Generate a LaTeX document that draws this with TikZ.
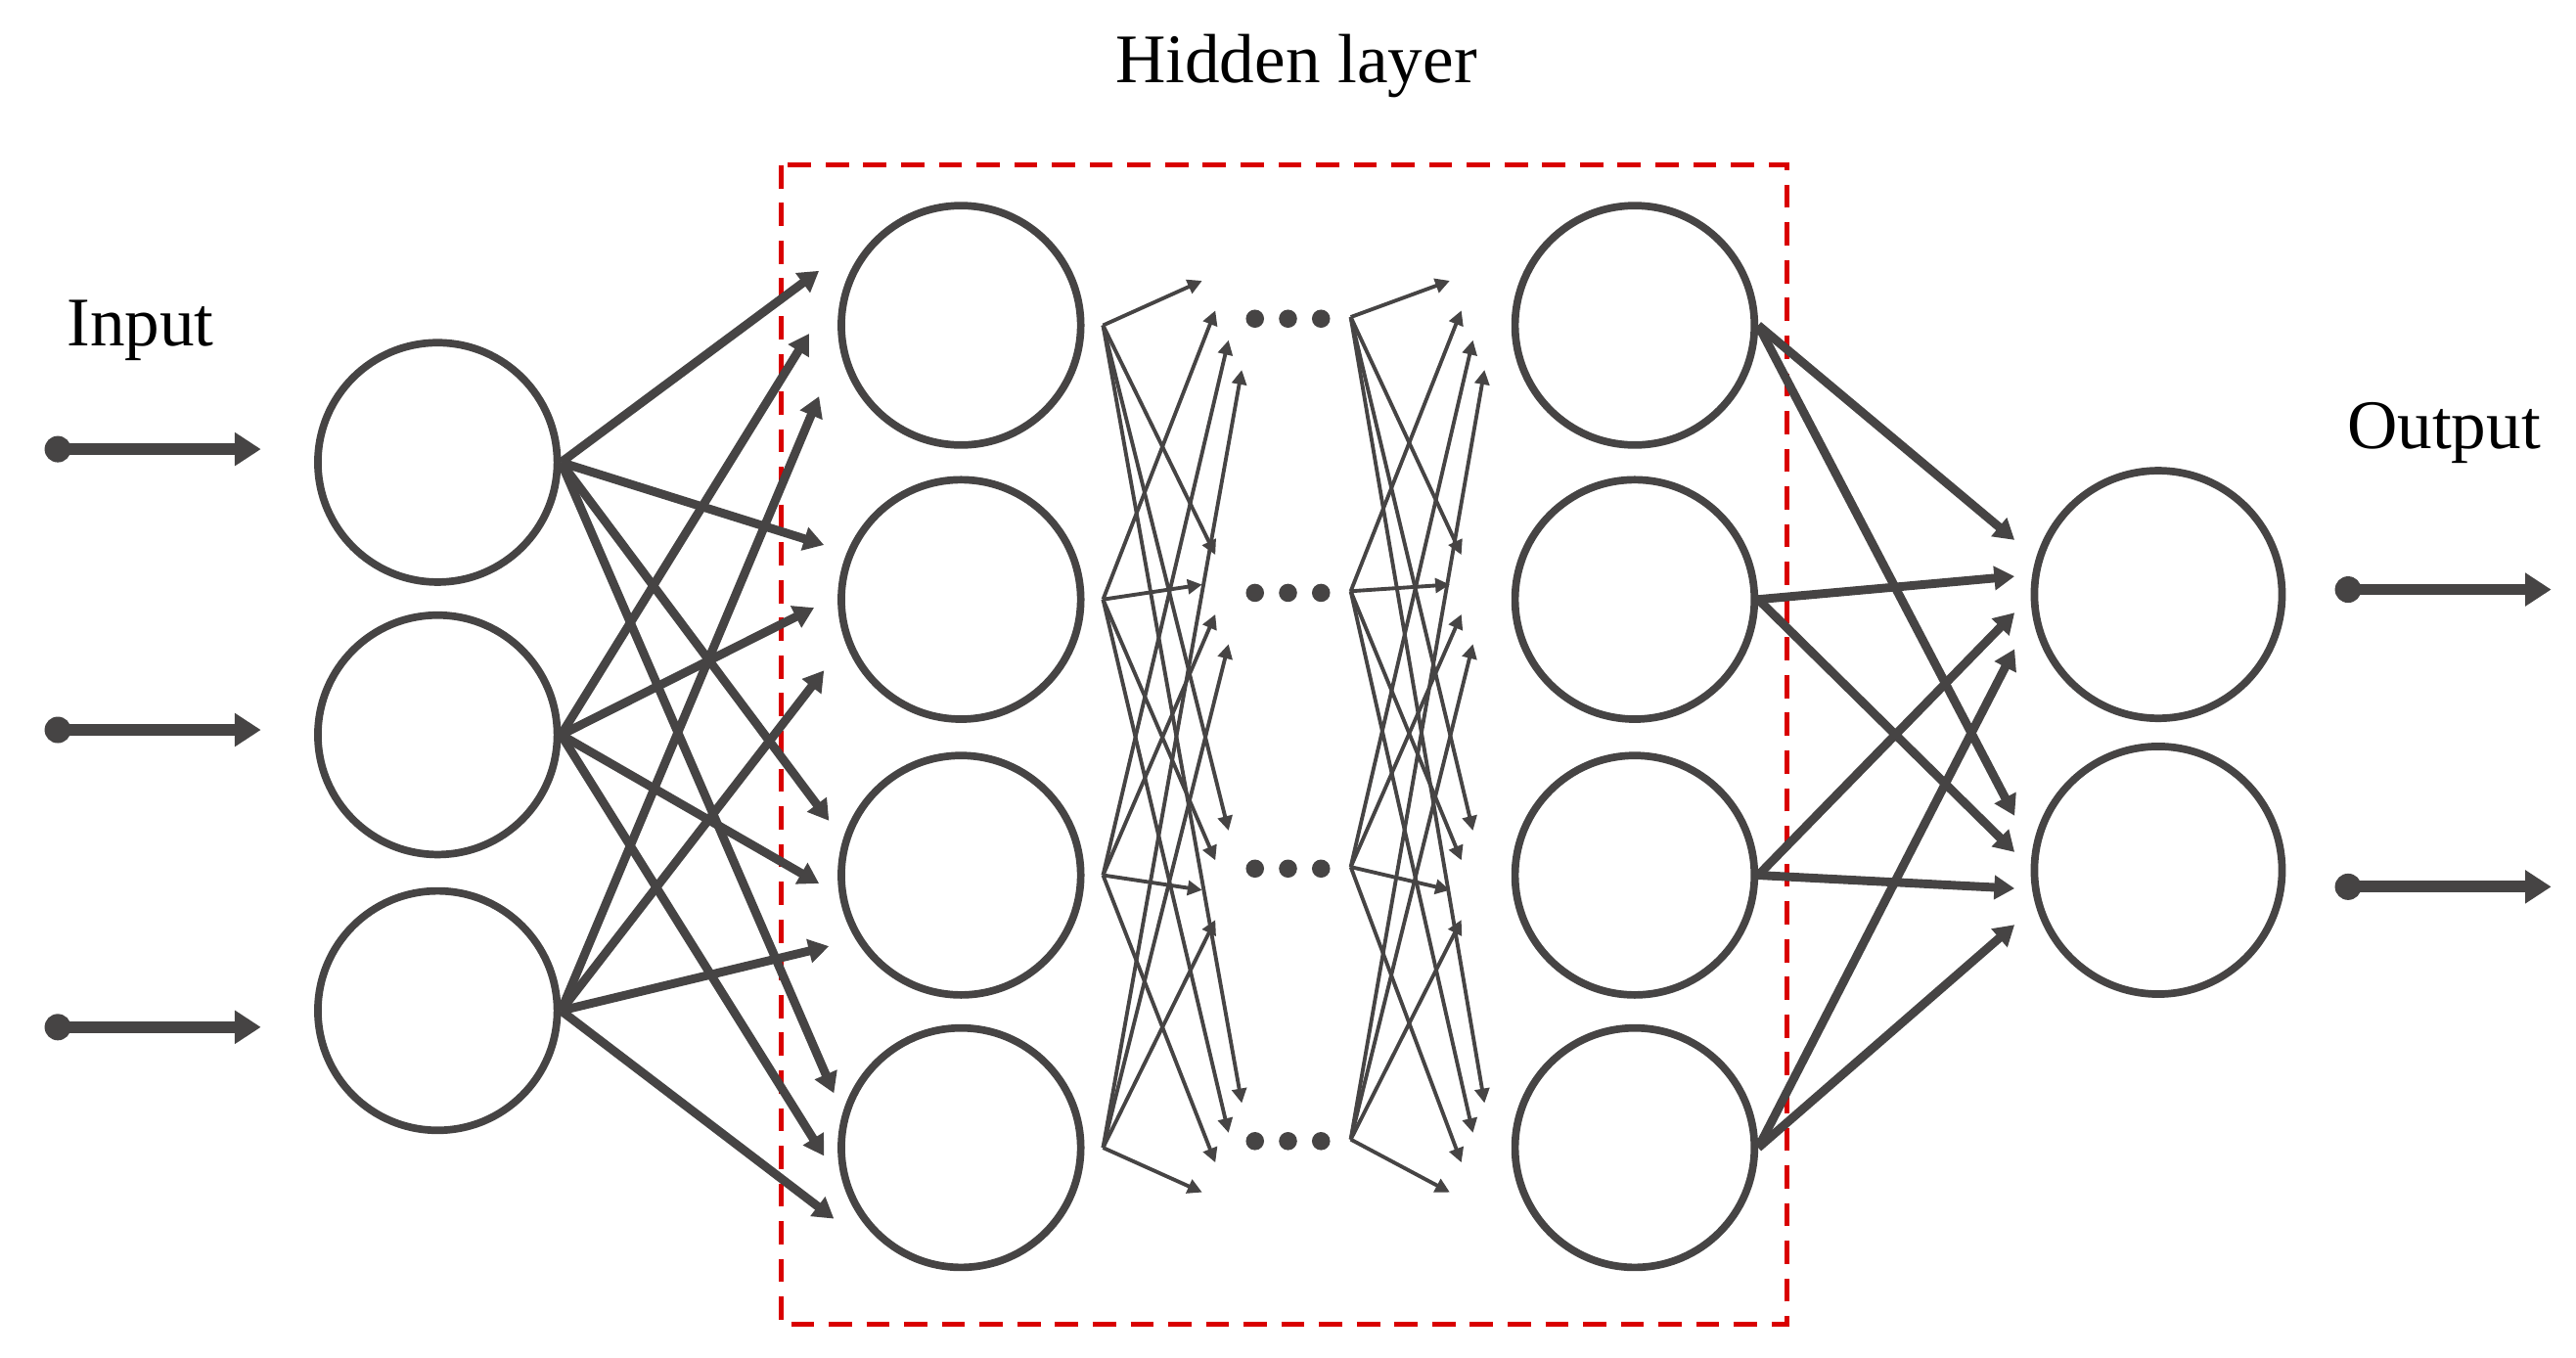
\documentclass[tikz,border=0pt]{standalone}
\usepackage{fontspec}
\setmainfont{Liberation Serif}
\usetikzlibrary{arrows.meta}
\definecolor{g}{RGB}{70,68,68}
\begin{document}
\begin{tikzpicture}[x=0.02cm,y=-0.02cm,
 neuron/.style={circle,draw=g,line width=2.6pt,minimum size=2.9cm,inner sep=0},
 big/.style={draw=g,line width=4pt,-{Triangle[length=9pt,width=11pt]}},
 cx/.style={draw=g,line width=3pt,-{Triangle[length=7pt,width=8pt]}},
 thin/.style={draw=g,line width=1.3pt,-{Triangle[length=5pt,width=5pt]}},
 dot/.style={circle,fill=g,inner sep=0,minimum size=0.22cm},
 lbl/.style={font=\fontsize{24}{26}\selectfont}]
\useasboundingbox (0,0) rectangle (1560,822);
\draw[red!85!black,line width=1.6pt,dash pattern=on 8pt off 5pt] (473,100) rectangle (1082,802);
\node[lbl] (th) at (785,40) {Hidden layer};
\node[lbl] (ti) at (85,200) {Input};
\node[lbl] (to) at (1480,262) {Output};
\foreach \y [count=\i] in {280,445,612}{\node[neuron] (i\i) at (265,\y) {};}
\foreach \y [count=\i] in {197,363,530,695}{
  \node[neuron] (a\i) at (582,\y) {};
  \node[neuron] (b\i) at (990,\y) {};
  \node[dot] (d\i a) at (760,\y-4) {};
  \node[dot] (d\i b) at (780,\y-4) {};
  \node[dot] (d\i c) at (800,\y-4) {};
  \coordinate (sa\i) at (668,\y);
  \coordinate (sb\i) at (818,\y-5);
}
\foreach \y [count=\i] in {360,527}{\node[neuron,minimum size=3cm] (o\i) at (1307,\y) {};}
% input arrows
\foreach \y [count=\i] in {272,442,622}{
 \fill[g] (35,\y) circle (8) coordinate (p\i);
 \coordinate (q\i) at (158,\y);
 \draw[big] (p\i) -- (q\i);}
\foreach \y [count=\i] in {357,537}{
 \fill[g] (1422,\y) circle (8) coordinate (r\i);
 \coordinate (s\i) at (1545,\y);
 \draw[big] (r\i) -- (s\i);}
% input -> hidden1
\foreach \i/\sy in {1/280,2/445,3/612}{
 \foreach \j/\ty in {1/197,2/363,3/530,4/695}{
  \pgfmathsetmacro\off{(\i-2)*38+5}
  \pgfmathsetmacro\tx{490+abs(\i-2)*6+(\j-1)*3}
  \coordinate (t\i\j) at (\tx,\ty+\off);
  \draw[cx] (i\i.east) -- (t\i\j);}}
% hidden1 -> dots
\foreach \i in {1,...,4}{
 \foreach \j/\ty in {1/197,2/363,3/530,4/695}{
  \pgfmathsetmacro\off{(\i-2.5)*18}
  \pgfmathsetmacro\tx{728+abs(\i-\j)*8}
  \coordinate (u\i\j) at (\tx,\ty+\off);
  \draw[thin] (sa\i) -- (u\i\j);
  \pgfmathsetmacro\txb{878+abs(\i-\j)*7}
  \coordinate (v\i\j) at (\txb,\ty+\off);
  \draw[thin] (sb\i) -- (v\i\j);}}
% hidden2 -> output
\foreach \i in {1,...,4}{
 \foreach \j/\ty in {1/360,2/527}{
  \pgfmathsetmacro\off{(\i-2.5)*22}
  \coordinate (w\i\j) at (1220,\ty+\off);
  \draw[cx] (b\i.east) -- (w\i\j);}}
\end{tikzpicture}
\end{document}
